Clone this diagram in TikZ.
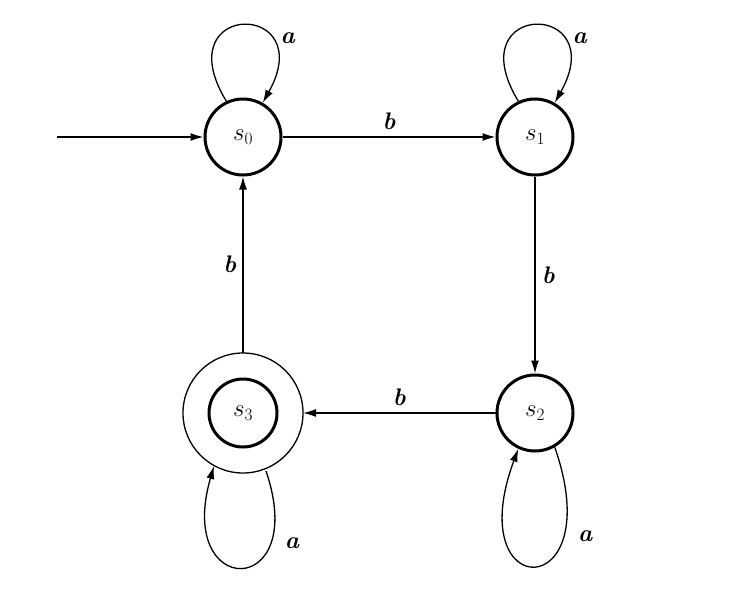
\documentclass[tikz,border=0pt]{standalone}
\usetikzlibrary{arrows.meta}
\begin{document}
\begin{tikzpicture}[x=1pt,y=-1pt,
  st/.style={circle,draw,line width=3pt,minimum size=76pt,inner sep=0pt,font=\fontsize{26}{26}\selectfont},
  ed/.style={line width=1.3pt,-{Latex[length=13pt,width=8pt]}},
  lb/.style={font=\fontsize{24}{24}\selectfont\itshape\bfseries}]
\useasboundingbox (0,0) rectangle (743,597);
\node[st] (s0) at (243,137) {$s_0$};
\node[st] (s1) at (535,137) {$s_1$};
\node[st] (s2) at (535,413) {$s_2$};
\node[st,minimum size=68pt] (s3) at (243,413) {$s_3$};
\draw[line width=1.3pt] (s3) circle (60pt);
\coordinate (st) at (57,137);
\draw[ed] (st) -- (s0);
\draw[ed] (s0) -- node[lb,above=3pt]{b} (s1);
\draw[ed] (s1) -- node[lb,right=3pt]{b} (s2);
\draw[ed] (s2) -- node[lb,above=3pt]{b} (s3.east -| 303,413);
\draw[ed] (s3.north |- 243,353) -- node[lb,left=3pt]{b} (s0);
\draw[ed] (s0.115) .. controls (165,0) and (320,0) .. node[lb,pos=0.7,right=8pt]{a} (s0.60);
\draw[ed] (s1.115) .. controls (457,0) and (612,0) .. node[lb,pos=0.7,right=8pt]{a} (s1.60);
\draw[ed] (s2.300) .. controls (610,605) and (460,605) .. node[lb,pos=0.25,right=10pt]{a} (s2.245);
\draw[ed] (266,471) .. controls (310,600) and (175,600) .. node[lb,pos=0.25,right=10pt]{a} (214,466);
\end{tikzpicture}
\end{document}
